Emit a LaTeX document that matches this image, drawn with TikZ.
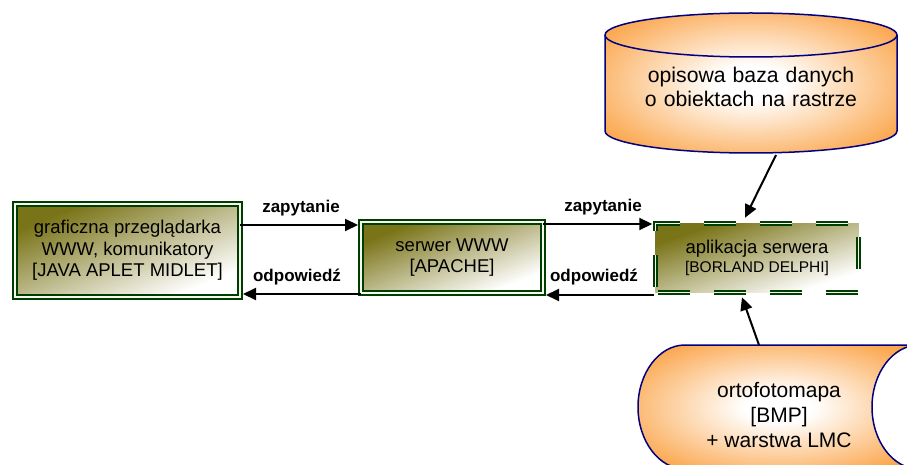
\documentclass[tikz,border=0pt]{standalone}
\usepackage{fontspec}
\setmainfont{Liberation Sans}
\usetikzlibrary{arrows.meta}
\pgfdeclarelayer{background}
\pgfsetlayers{background,main}
\definecolor{olv}{RGB}{122,116,24}
\definecolor{olvmid}{RGB}{194,193,170}
\definecolor{dgreen}{RGB}{0,62,0}
\definecolor{navyb}{RGB}{0,0,128}
\definecolor{orng}{RGB}{250,148,40}
\pgfdeclareradialshading{orad}{\pgfpoint{0bp}{0bp}}{color(0bp)=(white); color(6bp)=(white); color(30bp)=(orng!80!white); color(46bp)=(orng); color(50bp)=(orng)}
\tikzset{
  boxtext/.style={inner sep=0pt, outer sep=0pt, align=center, font=\fontsize{18.5}{21.5}\selectfont},
  solidbox/.style={boxtext, draw=dgreen, line width=2pt, double=white!94!olv, double distance=2pt},
  dashbox/.style={boxtext, draw=dgreen, line width=1.8pt, double=white!94!olv, double distance=1.4pt,
    dash pattern=on 32pt off 24pt, dash phase=-3pt},
  lbl/.style={font=\fontsize{17}{20}\selectfont\bfseries, inner sep=0pt},
  arr/.style={line width=2pt, -{Triangle[length=13pt,width=12pt]}},
  storetext/.style={align=center, inner sep=0pt, font=\fontsize{21}{25}\selectfont},
}
\newcommand{\boxshade}[3]{% center node, width, height
  \shade[top color=olv, middle color=olvmid, bottom color=white, shading angle=45,
    transform canvas={shift={(#1.center)}, xscale=#2/100, yscale=#3/100}]
    (-50,-50) rectangle (50,50);}
\begin{document}
\begin{tikzpicture}[x=1pt,y=-1pt]
\useasboundingbox (0,0) rectangle (907,465);

% boxes
\node[solidbox, minimum width=225, minimum height=93] (browser) at (127.5,250.5)
  {graficzna przeglądarka\\WWW, komunikatory\\{}[JAVA APLET MIDLET]};
\node[solidbox, minimum width=182, minimum height=71] (www) at (452,257.5)
  {serwer WWW\\{}[APACHE]};
\node[dashbox, minimum width=203.5, minimum height=68.5] (app) at (757,258)
  {aplikacja serwera\\[-3pt]{\fontsize{15.5}{18}\selectfont [BORLAND DELPHI]}};

\begin{pgfonlayer}{background}
\fill[white] (0,0) rectangle (907,465);
\boxshade{browser}{225}{93}
\boxshade{www}{182}{71}
\boxshade{app}{203.5}{68.5}
\end{pgfonlayer}

% database cylinder
\path[shading=orad, draw=navyb, line width=1.5pt]
  (605,35) -- (605,131) .. controls (605,143) and (670,153) .. (751,153)
  .. controls (832,153) and (897,143) .. (897,131) -- (897,35)
  .. controls (897,23) and (832,13) .. (751,13)
  .. controls (670,13) and (605,23) .. (605,35) -- cycle;
\draw[navyb, line width=1.5pt] (605,35) .. controls (605,47) and (670,57) .. (751,57)
  .. controls (832,57) and (897,47) .. (897,35);
\node[storetext, text width=280, font=\fontsize{21.2}{23.5}\selectfont] (db) at (751,87)
  {opisowa baza danych\\o obiektach na rastrze};

% stored data shape
\begin{scope}
\clip (0,0) rectangle (907,465);
\path[shading=orad, draw=navyb, line width=1.5pt]
  (685,345) -- (919,345)
  .. controls (893,345) and (872,373) .. (872,407)
  .. controls (872,441) and (893,469) .. (919,469)
  -- (685,469)
  .. controls (659,469) and (638,441) .. (638,407)
  .. controls (638,373) and (659,345) .. (685,345) -- cycle;
\end{scope}
\node[storetext] (ortho) at (779,415) {ortofotomapa\\{}[BMP]\\+ warstwa LMC};

% connectors
\coordinate (dbout) at (776,155);
\coordinate (orthoout) at (759,345);
\draw[arr] (browser.east |- 0,225) -- ([xshift=-3pt]www.west |- 0,225);
\draw[arr] (www.west |- 0,294) -- ([xshift=3pt]browser.east |- 0,294);
\draw[arr] (www.east |- 0,224) -- ([xshift=-3pt]app.west |- 0,224);
\draw[arr] ([xshift=-1pt]app.west |- 0,295) -- ([xshift=3pt]www.east |- 0,295);
\draw[arr] (dbout) -- ([xshift=-12pt,yshift=6pt]app.north);
\draw[arr] (orthoout) -- ([xshift=-15pt,yshift=-5pt]app.south);

% labels
\node[lbl] (z1) at (301,208) {zapytanie};
\node[lbl] (o1) at (297,277) {odpowiedź};
\node[lbl] (z2) at (603,207) {zapytanie};
\node[lbl] (o2) at (594,277) {odpowiedź};
\end{tikzpicture}
\end{document}
